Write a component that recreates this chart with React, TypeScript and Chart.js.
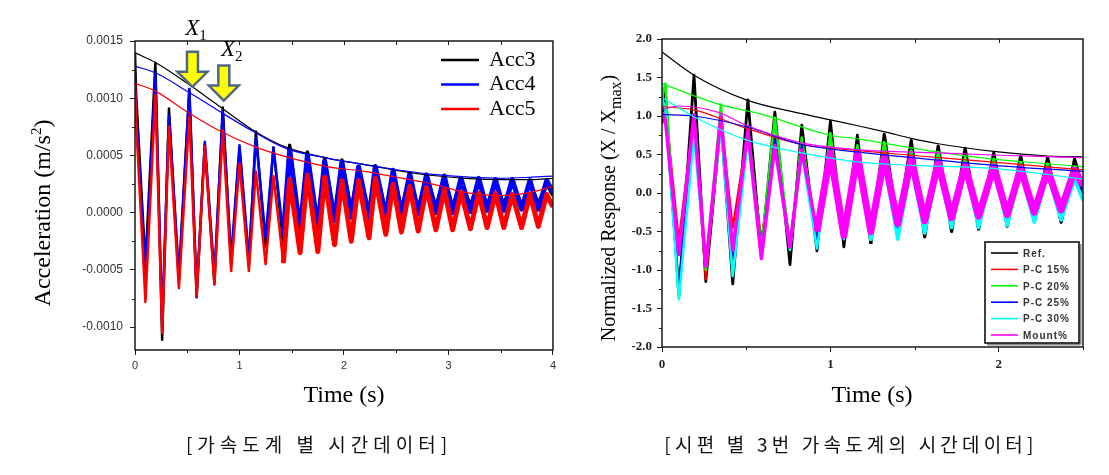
import React, { useEffect, useRef } from 'react';
import { Chart, registerables } from 'chart.js';

Chart.register(...registerables);

// ---------------- Left chart data (accelerometers) ----------------
const leftTimes = [0, 0.01, 0.1, 0.195, 0.26, 0.325, 0.42, 0.52, 0.59, 0.668, 0.76, 0.84, 0.92, 1.0, 1.09, 1.157, 1.25, 1.325, 1.42, 1.48, 1.58, 1.65, 1.75, 1.815, 1.91, 1.98, 2.07, 2.14, 2.24, 2.3, 2.4, 2.47, 2.55, 2.63, 2.71, 2.79, 2.88, 2.96, 3.04, 3.12, 3.21, 3.29, 3.37, 3.45, 3.53, 3.61, 3.7, 3.78, 3.86, 3.94, 4.0];
const acc3Values = [14.0e-4, 10.5e-4, -4.5e-4, 13.1e-4, -11.1e-4, 9.1e-4, -6.0e-4, 10.8e-4, -7.4e-4, 6.0e-4, -6.2e-4, 9.2e-4, -4.5e-4, 5.6e-4, -4.6e-4, 7.1e-4, -3.0e-4, 5.7e-4, -3.0e-4, 5.9e-4, -1.8e-4, 5.3e-4, -1.5e-4, 4.7e-4, -0.5e-4, 4.6e-4, 0.2e-4, 4.0e-4, -0.3e-4, 4.1e-4, 0.0, 3.7e-4, 0.3e-4, 3.2e-4, 0.3e-4, 3.3e-4, 0.5e-4, 3.1e-4, 0.5e-4, 2.8e-4, 0.6e-4, 2.8e-4, 0.6e-4, 2.7e-4, 0.7e-4, 2.7e-4, 0.7e-4, 2.5e-4, 0.8e-4, 2.5e-4, 1.5e-4];
const acc4Values = [11.0e-4, 9.0e-4, -5.4e-4, 12.0e-4, -9.5e-4, 8.5e-4, -5.4e-4, 10.8e-4, -7.0e-4, 6.2e-4, -5.5e-4, 8.8e-4, -4.0e-4, 5.9e-4, -4.0e-4, 6.5e-4, -2.2e-4, 5.7e-4, -2.0e-4, 5.5e-4, -1.6e-4, 5.0e-4, -1.3e-4, 4.5e-4, -0.7e-4, 4.4e-4, -0.4e-4, 4.0e-4, -0.4e-4, 4.0e-4, -0.3e-4, 3.7e-4, -0.2e-4, 3.4e-4, -0.1e-4, 3.3e-4, 0.0, 3.2e-4, 0.0, 3.0e-4, 0.1e-4, 3.0e-4, 0.2e-4, 2.9e-4, 0.2e-4, 2.9e-4, 0.3e-4, 2.8e-4, 0.3e-4, 2.8e-4, 1.8e-4];
const acc5Values = [11.3e-4, 8.0e-4, -7.8e-4, 10.3e-4, -10.5e-4, 7.5e-4, -6.6e-4, 8.4e-4, -7.3e-4, 5.8e-4, -6.3e-4, 7.2e-4, -5.1e-4, 4.3e-4, -5.1e-4, 3.6e-4, -4.5e-4, 3.2e-4, -4.4e-4, 2.9e-4, -3.5e-4, 3.3e-4, -3.4e-4, 3.1e-4, -2.8e-4, 2.8e-4, -2.5e-4, 2.8e-4, -2.2e-4, 3.0e-4, -1.9e-4, 2.5e-4, -1.7e-4, 2.3e-4, -1.6e-4, 2.2e-4, -1.5e-4, 2.0e-4, -1.5e-4, 1.8e-4, -1.4e-4, 1.7e-4, -1.3e-4, 1.7e-4, -1.3e-4, 1.6e-4, -1.3e-4, 1.6e-4, -1.2e-4, 1.6e-4, 0.5e-4];
const leftEnvTimes = [0, 0.2, 0.5, 0.8, 1.15, 1.45, 1.85, 2.2, 2.5, 2.85, 3.2, 3.5, 3.8, 4.0];
const acc3Envelope = [13.97e-4, 13.1e-4, 11.3e-4, 9.35e-4, 7.1e-4, 5.7e-4, 4.75e-4, 4.2e-4, 3.7e-4, 3.25e-4, 2.97e-4, 2.88e-4, 2.88e-4, 3.0e-4];
const acc4Envelope = [12.8e-4, 12.2e-4, 10.6e-4, 8.9e-4, 7.0e-4, 5.6e-4, 4.75e-4, 4.2e-4, 3.75e-4, 3.35e-4, 3.1e-4, 3.0e-4, 3.1e-4, 3.2e-4];
const acc5Envelope = [11.3e-4, 10.6e-4, 8.8e-4, 7.2e-4, 5.75e-4, 4.87e-4, 4.0e-4, 3.6e-4, 3.1e-4, 2.5e-4, 1.7e-4, 1.5e-4, 1.8e-4, 2.3e-4];
const leftLegendLabels = ['Acc3', 'Acc4', 'Acc5'];
const leftColors = ['#000000', '#0000ff', '#ff0000'];
// peak markers X1, X2
const arrowTimes = [0.55, 0.85];
const arrowTipValues = [0.0011, 0.00098];
const peakLabelTimes = [0.48, 0.823];
const peakLabelValues = [0.00155, 0.00137];
const peakLabelSubs = ['1', '2'];

// ---------------- Right chart data (normalized responses) ----------------
const rightTimes = [0, 0.02, 0.1, 0.19, 0.26, 0.35, 0.42, 0.51, 0.59, 0.67, 0.76, 0.83, 0.92, 1.0, 1.08, 1.16, 1.24, 1.32, 1.4, 1.48, 1.56, 1.64, 1.72, 1.8, 1.88, 1.97, 2.05, 2.13, 2.21, 2.29, 2.37, 2.45, 2.5];
const refValues = [0.9, 1.3, -1.33, 1.53, -1.15, 0.95, -1.18, 1.21, -0.8, 1.05, -0.93, 0.88, -0.75, 0.93, -0.7, 0.75, -0.66, 0.76, -0.45, 0.68, -0.57, 0.61, -0.5, 0.58, -0.47, 0.52, -0.43, 0.48, -0.36, 0.46, -0.38, 0.44, 0.05];
const pc15Values = [1.1, 1.12, -0.62, 1.02, -1.12, 0.95, -0.45, 0.82, -0.62, 0.66, -0.66, 0.6, -0.56, 0.6, -0.5, 0.55, -0.45, 0.5, -0.36, 0.46, -0.33, 0.42, -0.3, 0.4, -0.27, 0.37, -0.23, 0.35, -0.18, 0.32, -0.14, 0.3, 0.05];
const pc20Values = [1.25, 1.42, -1.34, 0.95, -1.0, 1.15, -1.05, 0.85, -0.72, 0.98, -0.72, 0.72, -0.62, 0.78, -0.56, 0.62, -0.55, 0.66, -0.42, 0.55, -0.46, 0.53, -0.4, 0.46, -0.38, 0.44, -0.33, 0.4, -0.3, 0.38, -0.3, 0.34, 0.05];
const pc25Values = [1.0, 1.02, -1.25, 1.0, -0.95, 0.92, -0.85, 0.86, -0.78, 0.72, -0.7, 0.62, -0.62, 0.58, -0.55, 0.52, -0.52, 0.48, -0.45, 0.44, -0.44, 0.4, -0.42, 0.36, -0.4, 0.34, -0.38, 0.3, -0.36, 0.28, -0.36, 0.28, 0.0];
const pc30Values = [1.24, 1.1, -1.38, 0.75, -0.95, 0.86, -1.08, 0.7, -0.85, 0.62, -0.74, 0.52, -0.72, 0.47, -0.6, 0.4, -0.62, 0.38, -0.6, 0.36, -0.52, 0.35, -0.45, 0.33, -0.45, 0.32, -0.42, 0.28, -0.38, 0.24, -0.35, 0.18, -0.1];
const mountValues = [1.05, 0.95, -0.8, 1.02, -0.95, 1.0, -0.75, 0.82, -0.85, 0.62, -0.7, 0.56, -0.5, 0.52, -0.55, 0.5, -0.5, 0.47, -0.4, 0.45, -0.36, 0.4, -0.32, 0.36, -0.3, 0.34, -0.28, 0.32, -0.25, 0.3, -0.22, 0.3, 0.1];
const refEnvT = [0, 0.19, 0.5, 0.83, 1.0, 1.17, 1.33, 1.48, 1.64, 1.97, 2.29, 2.5];
const refEnv = [1.83, 1.53, 1.21, 1.03, 0.95, 0.87, 0.79, 0.71, 0.64, 0.54, 0.48, 0.47];
const pc15EnvT = [0, 0.19, 0.5, 0.83, 1.17, 1.48, 1.97, 2.5];
const pc15Env = [1.12, 1.08, 0.84, 0.63, 0.55, 0.49, 0.4, 0.3];
const pc20EnvT = [0, 0.34, 0.58, 1.0, 1.17, 1.64, 1.97, 2.29, 2.5];
const pc20Env = [1.42, 1.15, 1.03, 0.75, 0.7, 0.53, 0.44, 0.38, 0.34];
const pc25EnvT = [0, 0.19, 0.5, 0.83, 1.17, 1.48, 1.97, 2.5];
const pc25Env = [1.02, 1.0, 0.86, 0.63, 0.53, 0.46, 0.36, 0.28];
const pc30EnvT = [0, 0.19, 0.5, 0.83, 1.17, 1.48, 1.97, 2.29, 2.5];
const pc30Env = [1.24, 0.99, 0.69, 0.52, 0.4, 0.36, 0.32, 0.24, 0.18];
const mountEnvT = [0, 0.1, 0.33, 0.5, 0.83, 1.17, 1.64, 2.0, 2.5];
const mountEnv = [1.08, 1.13, 1.05, 0.88, 0.65, 0.56, 0.52, 0.49, 0.46];
const rightLegendLabels = ['Ref.', 'P-C 15%', 'P-C 20%', 'P-C 25%', 'P-C 30%', 'Mount%'];
const rightColors = ['#000000', '#ff0000', '#00ff00', '#0000ff', '#00ffff', '#ff00ff'];

const leftCaption = '[가속도계 별 시간데이터]';
const rightCaption = '[시편 별 3번 가속도계의 시간데이터]';

// ---------------- helpers ----------------
const pts = (xs: number[], ys: number[]) => xs.map((x, i) => ({ x, y: ys[i] }));

type Part = { text: string; font: string; dy?: number };

function drawRich(ctx: CanvasRenderingContext2D, parts: Part[], x: number, y: number, rotate: boolean, align: 'center' | 'left') {
  ctx.save();
  ctx.translate(x, y);
  if (rotate) ctx.rotate(-Math.PI / 2);
  ctx.textBaseline = 'alphabetic';
  ctx.textAlign = 'left';
  ctx.fillStyle = '#000';
  let total = 0;
  const widths = parts.map((p) => {
    ctx.font = p.font;
    const w = ctx.measureText(p.text).width;
    total += w;
    return w;
  });
  let cx = align === 'center' ? -total / 2 : 0;
  parts.forEach((p, i) => {
    ctx.font = p.font;
    ctx.fillText(p.text, cx, p.dy || 0);
    cx += widths[i];
  });
  ctx.restore();
}

function seg(ctx: CanvasRenderingContext2D, x0: number, y0: number, x1: number, y1: number) {
  ctx.beginPath();
  ctx.moveTo(x0, y0);
  ctx.lineTo(x1, y1);
  ctx.stroke();
}

const decorPlugin = {
  id: 'decor',
  afterDraw(chart: any, _args: any, o: any) {
    const { ctx, chartArea: a, scales } = chart;
    const x = scales.x;
    const y = scales.y;
    ctx.save();
    // frame
    ctx.strokeStyle = '#1a1a1a';
    ctx.lineWidth = 1.5;
    ctx.strokeRect(a.left, a.top, a.right - a.left, a.bottom - a.top);
    ctx.lineWidth = 1;
    // x minor ticks (outward, bottom) and inward ticks along the top
    const nx = Math.round((x.max - x.min) / o.xMinor);
    for (let i = 0; i <= nx; i++) {
      const v = x.min + i * o.xMinor;
      if (v > x.max + 1e-9) break;
      const px = Math.round(x.getPixelForValue(v)) + 0.5;
      const isMajor = Math.abs(v / o.xMajor - Math.round(v / o.xMajor)) < 1e-6;
      if (!isMajor) seg(ctx, px, a.bottom, px, a.bottom + 3);
      if (i > 0 && v < x.max - 1e-9) seg(ctx, px, a.top, px, a.top + 4);
    }
    // y minor ticks (outward, left)
    const start = Math.ceil(y.min / o.yMinor - 1e-9);
    const end = Math.floor(y.max / o.yMinor + 1e-9);
    for (let k = start; k <= end; k++) {
      const v = k * o.yMinor;
      const isMajor = Math.abs(v / o.yMajor - Math.round(v / o.yMajor)) < 1e-6;
      if (isMajor) continue;
      const py = Math.round(y.getPixelForValue(v)) + 0.5;
      seg(ctx, a.left - 3, py, a.left, py);
    }
    // axis titles
    drawRich(ctx, o.yTitle.parts, o.yTitle.x, o.yTitle.y, true, 'center');
    drawRich(ctx, o.xTitle.parts, o.xTitle.x, o.xTitle.y, false, 'center');

    // legend
    const lg = o.legend;
    if (lg.box) {
      ctx.fillStyle = '#fff';
      ctx.fillRect(lg.box[0], lg.box[1], lg.box[2], lg.box[3]);
      ctx.strokeStyle = '#8a8a8a';
      ctx.lineWidth = 2;
      seg(ctx, lg.box[0] + 2, lg.box[1] + lg.box[3] + 1.5, lg.box[0] + lg.box[2] + 1.5, lg.box[1] + lg.box[3] + 1.5);
      seg(ctx, lg.box[0] + lg.box[2] + 1.5, lg.box[1] + 2, lg.box[0] + lg.box[2] + 1.5, lg.box[1] + lg.box[3] + 1.5);
      ctx.strokeStyle = '#111';
      ctx.lineWidth = 1.6;
      ctx.strokeRect(lg.box[0], lg.box[1], lg.box[2], lg.box[3]);
    }
    lg.labels.forEach((lab: string, i: number) => {
      const yy = lg.y0 + i * lg.dy;
      ctx.strokeStyle = lg.colors[i];
      ctx.lineWidth = lg.lw;
      seg(ctx, lg.x0, yy, lg.x1, yy);
      ctx.fillStyle = lg.textColor;
      ctx.font = lg.font;
      ctx.textAlign = 'left';
      ctx.textBaseline = 'middle';
      if ('letterSpacing' in ctx) (ctx as any).letterSpacing = lg.spacing || '0px';
      ctx.fillText(lab, lg.xt, yy + (lg.textDy || 0));
      if ('letterSpacing' in ctx) (ctx as any).letterSpacing = '0px';
    });

    // peak markers (arrows + labels)
    if (o.markers) {
      const m = o.markers;
      m.times.forEach((t: number, i: number) => {
        const tx = x.getPixelForValue(t);
        const ty = y.getPixelForValue(m.tips[i]);
        const sw = 5.5, hw = 15, hh = 15, len = 35;
        ctx.beginPath();
        ctx.moveTo(tx, ty);
        ctx.lineTo(tx - hw, ty - hh);
        ctx.lineTo(tx - sw, ty - hh);
        ctx.lineTo(tx - sw, ty - len);
        ctx.lineTo(tx + sw, ty - len);
        ctx.lineTo(tx + sw, ty - hh);
        ctx.lineTo(tx + hw, ty - hh);
        ctx.closePath();
        ctx.fillStyle = '#ffff00';
        ctx.fill();
        ctx.strokeStyle = '#4d6785';
        ctx.lineWidth = 2.5;
        ctx.lineJoin = 'miter';
        ctx.stroke();
      });
      m.labelTimes.forEach((t: number, i: number) => {
        const lx = x.getPixelForValue(t);
        const ly = y.getPixelForValue(m.labelValues[i]);
        drawRich(ctx, [
          { text: 'X', font: 'italic 23px "Liberation Serif"' },
          { text: m.subs[i], font: '15px "Liberation Serif"', dy: 5 },
        ], lx, ly, false, 'left');
      });
    }
    ctx.restore();
  },
};

function signal(label: string, xs: number[], ys: number[], color: string, w: number, lateFrom: number, lateW: number) {
  return {
    label,
    data: pts(xs, ys),
    borderColor: color,
    backgroundColor: color,
    borderWidth: w,
    pointRadius: 0,
    tension: 0,
    fill: false,
    borderJoinStyle: 'round',
    segment: {
      borderWidth: (c: any) => (c.p0.parsed.x >= lateFrom ? lateW : undefined),
    },
  };
}

function envelope(label: string, xs: number[], ys: number[], color: string) {
  return {
    label,
    data: pts(xs, ys),
    borderColor: color,
    backgroundColor: color,
    borderWidth: 1.2,
    pointRadius: 0,
    tension: 0.4,
    cubicInterpolationMode: 'monotone',
    fill: false,
  };
}

const tickFontSans = { family: 'Liberation Sans', size: 12 };

function leftConfig(): any {
  return {
    type: 'line',
    data: {
      datasets: [
        envelope('Acc5 envelope', leftEnvTimes, acc5Envelope, leftColors[2]),
        envelope('Acc4 envelope', leftEnvTimes, acc4Envelope, leftColors[1]),
        envelope('Acc3 envelope', leftEnvTimes, acc3Envelope, leftColors[0]),
        signal('Acc5', leftTimes, acc5Values, leftColors[2], 2.5, 1.4, 5),
        signal('Acc4', leftTimes, acc4Values, leftColors[1], 2.5, 1.4, 5),
        signal('Acc3', leftTimes, acc3Values, leftColors[0], 2.5, 1.4, 3.5),
      ],
    },
    plugins: [decorPlugin],
    options: {
      responsive: false,
      animation: false,
      devicePixelRatio: 1,
      events: [],
      layout: { padding: { left: 0, top: 41, right: 6, bottom: 0 } },
      plugins: {
        legend: { display: false },
        tooltip: { enabled: false },
        decor: {
          xMinor: 0.5,
          xMajor: 1,
          yMinor: 0.00025,
          yMajor: 0.0005,
          yTitle: {
            x: 50,
            y: 213,
            parts: [
              { text: 'Acceleration (m/s', font: '24px "Liberation Serif"' },
              { text: '2', font: '15px "Liberation Serif"', dy: -9 },
              { text: ')', font: '24px "Liberation Serif"' },
            ],
          },
          xTitle: { x: 344, y: 402, parts: [{ text: 'Time (s)', font: '24px "Liberation Serif"' }] },
          legend: {
            labels: leftLegendLabels,
            colors: leftColors,
            x0: 441,
            x1: 479,
            xt: 489,
            y0: 60,
            dy: 24.5,
            lw: 2.5,
            font: '22px "Liberation Serif"',
            textColor: '#000',
          },
          markers: {
            times: arrowTimes,
            tips: arrowTipValues,
            labelTimes: peakLabelTimes,
            labelValues: peakLabelValues,
            subs: peakLabelSubs,
          },
        },
      },
      scales: {
        x: {
          type: 'linear',
          min: 0,
          max: 4,
          afterFit: (s: any) => {
            s.height = 125;
          },
          ticks: {
            stepSize: 1,
            includeBounds: false,
            autoSkip: false,
            maxRotation: 0,
            padding: 4,
            color: '#333',
            font: { family: 'Liberation Sans', size: 11 },
            callback: (v: any) => String(v),
          },
          grid: { display: true, drawOnChartArea: false, drawTicks: true, tickLength: 5, tickColor: '#1a1a1a' },
          border: { display: false },
        },
        y: {
          type: 'linear',
          min: -0.0012,
          max: 0.0015,
          afterFit: (s: any) => {
            s.width = 135;
          },
          ticks: {
            stepSize: 0.0005,
            includeBounds: false,
            autoSkip: false,
            padding: 7,
            color: '#333',
            font: tickFontSans,
            callback: (v: any) => {
              const n = Number(v);
              return (Math.abs(n) < 1e-12 ? 0 : n).toFixed(4);
            },
          },
          grid: { display: true, drawOnChartArea: false, drawTicks: true, tickLength: 5, tickColor: '#1a1a1a' },
          border: { display: false },
        },
      },
    },
  };
}

function rightConfig(): any {
  const boldSerif = { family: 'Liberation Serif', size: 13, weight: 'bold' };
  return {
    type: 'line',
    data: {
      datasets: [
        envelope('Mount% envelope', mountEnvT, mountEnv, rightColors[5]),
        envelope('P-C 30% envelope', pc30EnvT, pc30Env, rightColors[4]),
        envelope('P-C 25% envelope', pc25EnvT, pc25Env, rightColors[3]),
        envelope('P-C 20% envelope', pc20EnvT, pc20Env, rightColors[2]),
        envelope('P-C 15% envelope', pc15EnvT, pc15Env, rightColors[1]),
        envelope('Ref. envelope', refEnvT, refEnv, rightColors[0]),
        signal('Mount%', rightTimes, mountValues, rightColors[5], 3.5, 0.9, 7),
        signal('P-C 30%', rightTimes, pc30Values, rightColors[4], 2.5, 1.2, 3.5),
        signal('P-C 25%', rightTimes, pc25Values, rightColors[3], 2.2, 1.2, 3),
        signal('P-C 20%', rightTimes, pc20Values, rightColors[2], 2.5, 1.2, 3),
        signal('P-C 15%', rightTimes, pc15Values, rightColors[1], 2.2, 1.2, 3),
        signal('Ref.', rightTimes, refValues, rightColors[0], 2.8, 1.2, 3.2),
      ],
    },
    plugins: [decorPlugin],
    options: {
      responsive: false,
      animation: false,
      devicePixelRatio: 1,
      events: [],
      layout: { padding: { left: 0, top: 39, right: 26, bottom: 0 } },
      plugins: {
        legend: { display: false },
        tooltip: { enabled: false },
        decor: {
          xMinor: 0.5,
          xMajor: 1,
          yMinor: 0.25,
          yMajor: 0.5,
          yTitle: {
            x: 55,
            y: 208,
            parts: [
              { text: 'Normalized Response (X / X', font: '20px "Liberation Serif"' },
              { text: 'max', font: '16px "Liberation Serif"', dy: 6 },
              { text: ')', font: '20px "Liberation Serif"' },
            ],
          },
          xTitle: { x: 312, y: 402, parts: [{ text: 'Time (s)', font: '24px "Liberation Serif"' }] },
          legend: {
            box: [425, 242, 94, 101],
            labels: rightLegendLabels,
            colors: rightColors,
            x0: 431,
            x1: 458,
            xt: 463,
            y0: 253,
            dy: 16.4,
            lw: 1.6,
            font: 'bold 10px "Liberation Sans"',
            spacing: '1px',
            textColor: '#333',
            textDy: 1,
          },
        },
      },
      scales: {
        x: {
          type: 'linear',
          min: 0,
          max: 2.5,
          afterFit: (s: any) => {
            s.height = 128;
          },
          ticks: {
            stepSize: 1,
            includeBounds: false,
            autoSkip: false,
            maxRotation: 0,
            padding: 5,
            color: '#222',
            font: boldSerif,
            callback: (v: any) => String(v),
          },
          grid: { display: true, drawOnChartArea: false, drawTicks: true, tickLength: 5, tickColor: '#1a1a1a' },
          border: { display: false },
        },
        y: {
          type: 'linear',
          min: -2,
          max: 2,
          afterFit: (s: any) => {
            s.width = 102;
          },
          ticks: {
            stepSize: 0.5,
            includeBounds: false,
            autoSkip: false,
            padding: 5,
            color: '#222',
            font: boldSerif,
            callback: (v: any) => Number(v).toFixed(1),
          },
          grid: { display: true, drawOnChartArea: false, drawTicks: true, tickLength: 5, tickColor: '#1a1a1a' },
          border: { display: false },
        },
      },
    },
  };
}

export default function App() {
  const leftRef = useRef<HTMLCanvasElement | null>(null);
  const rightRef = useRef<HTMLCanvasElement | null>(null);

  useEffect(() => {
    const c1 = new Chart(leftRef.current as HTMLCanvasElement, leftConfig());
    const c2 = new Chart(rightRef.current as HTMLCanvasElement, rightConfig());
    return () => {
      c1.destroy();
      c2.destroy();
    };
  }, []);

  const captionBase: React.CSSProperties = {
    position: 'absolute',
    top: 431,
    width: 500,
    textAlign: 'center',
    fontFamily: '"Noto Sans CJK KR", sans-serif',
    fontSize: 19,
    lineHeight: '26px',
    color: '#111',
    whiteSpace: 'nowrap',
  };

  return (
    <div style={{ position: 'fixed', left: 0, top: 0, width: 1109, height: 475, background: '#ffffff', overflow: 'hidden' }}>
      <canvas ref={leftRef} width={560} height={475} style={{ position: 'absolute', left: 0, top: 0 }} />
      <canvas ref={rightRef} width={549} height={475} style={{ position: 'absolute', left: 560, top: 0 }} />
      <div style={{ ...captionBase, left: 319 - 250, letterSpacing: '5px' }}>{leftCaption}</div>
      <div style={{ ...captionBase, left: 851 - 250, letterSpacing: '4.2px' }}>{rightCaption}</div>
    </div>
  );
}
